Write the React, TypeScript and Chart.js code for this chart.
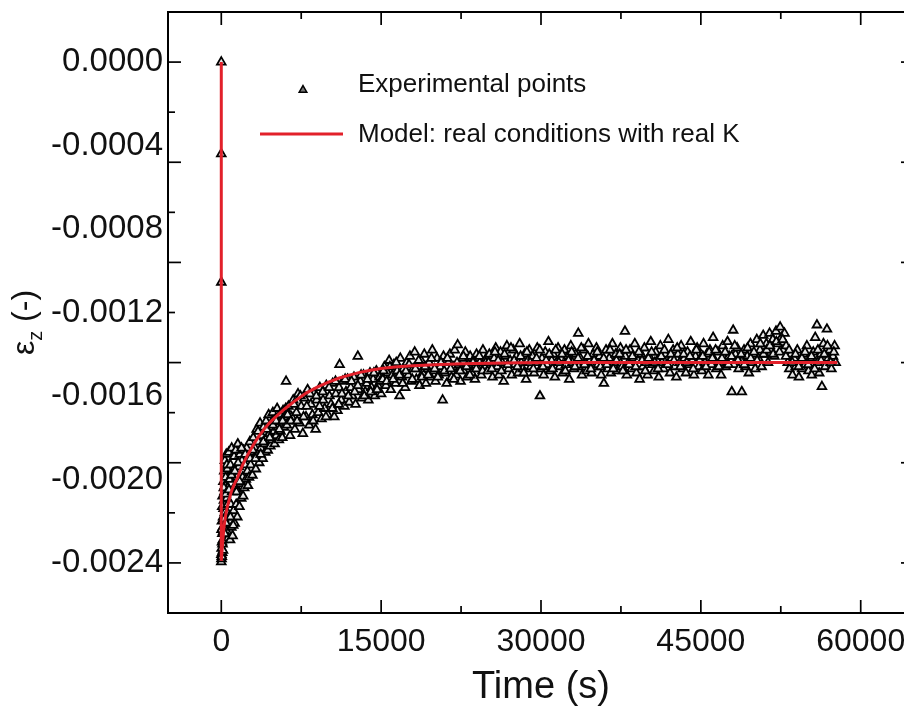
import { useEffect, useRef } from 'react';
import { Chart, registerables } from 'chart.js';

Chart.register(...registerables);

// ---------- axes ----------
const X_RANGE = [-5000, 65000];
const Y_RANGE = [-0.00264, 0.00024];
const X_TICKS = [0, 15000, 30000, 45000, 60000];
const X_MINOR_MARKS = [7500, 22500, 37500, 52500];
const Y_TICKS = [0, -0.0004, -0.0008, -0.0012, -0.0016, -0.002, -0.0024];
const Y_MAJOR_MARKS = [0, -0.00048, -0.00096, -0.00144, -0.00192, -0.0024];
const Y_MINOR_MARKS = [-0.00024, -0.00072, -0.0012, -0.00168, -0.00216];

const X_TITLE = 'Time (s)';
const Y_TITLE_MAIN = 'ε';
const Y_TITLE_SUB = 'z';
const Y_TITLE_UNIT = ' (-)';

const SERIES_EXP = 'Experimental points';
const SERIES_MODEL = 'Model: real conditions with real K';

// strain values below are in micro-strain (1e-6)
const MICRO = 1e-6;

// ---------- model curve ----------
const MODEL_TIME = [0, 0, 100, 250, 400, 550, 700, 850, 1000, 1250, 1500, 1750, 2000, 2500, 3000, 3500, 4000, 4500, 5000, 6000, 7000, 8000, 9000, 10000, 11000, 12000, 13000, 14000, 15000, 16500, 18000, 20000, 22500, 25000, 28000, 32000, 40000, 50000, 57800];
const MODEL_STRAIN = [0, -2390, -2320, -2230, -2175, -2135, -2105, -2075, -2050, -2020, -1995, -1962, -1930, -1880, -1835, -1795, -1760, -1730, -1705, -1660, -1620, -1585, -1558, -1535, -1515, -1500, -1487, -1477, -1468, -1460, -1455, -1450, -1446, -1443, -1441, -1440, -1440, -1440, -1440];

// ---------- experimental points [time s, micro-strain] ----------
const EXP_START: [number, number][] = [[0, 0], [0, -440], [0, -1055]];

const EXP_EARLY: [number, number][] = [
  [0, -2395], [10, -2360], [20, -2380], [35, -2330], [50, -2370], [60, -2200], [70, -2300], [85, -2350],
  [100, -2260], [115, -2310], [120, -2080], [135, -2230], [150, -2290], [170, -2180], [185, -2250], [200, -2010],
  [215, -2140], [230, -2230], [250, -2100], [265, -2190], [280, -1960], [300, -2060], [320, -2160], [340, -1910],
  [360, -2030], [380, -2120], [410, -1990], [440, -2210], [470, -1880], [500, -2090], [530, -2250], [560, -1950],
  [590, -2160], [620, -2040], [650, -2280],
  [30, -2240], [90, -2130], [160, -2340], [240, -2040], [330, -2260], [420, -2070], [520, -1930], [600, -2120],
];

const EXP_RISE: [number, number][] = [
  [700, -1870], [740, -2180], [780, -2000], [820, -2290], [860, -1930], [900, -2120], [940, -2230], [980, -1850],
  [1020, -2060], [1060, -2270], [1100, -1960], [1150, -2150], [1200, -1890], [1250, -2210], [1300, -2030], [1350, -1860],
  [1400, -2120], [1450, -1990], [1500, -2180], [1550, -1830], [1600, -2060], [1650, -1940], [1700, -2130], [1750, -1880],
  [1800, -2020], [1870, -2090], [1940, -1910], [2000, -1990], [2080, -1860], [2150, -2040], [2230, -1930], [2300, -2000],
  [2380, -1850], [2450, -1960], [2530, -1900], [2600, -1990], [2680, -1820], [2760, -1930], [2840, -1870], [2920, -1980],
  [3000, -1800], [3080, -1900], [3160, -1850], [3240, -1950], [3320, -1760], [3400, -1880], [3480, -1820], [3560, -1920],
  [3640, -1730], [3720, -1850], [3800, -1790], [3880, -1900], [3960, -1750], [4040, -1830], [4120, -1870], [4200, -1720],
  [4280, -1800], [4360, -1860], [4440, -1690], [4520, -1780], [4600, -1840], [4680, -1730], [4760, -1810], [4840, -1680],
  [4920, -1770], [5000, -1830], [5080, -1710], [5160, -1790], [5240, -1660], [5320, -1750], [5400, -1810], [5480, -1690],
  [5560, -1770], [5640, -1720], [5720, -1800], [5800, -1670], [5880, -1750], [5960, -1700], [6080, -1530],
  [720, -2050], [850, -2180], [960, -1980], [1120, -2220], [1280, -1960], [1420, -2060], [1580, -1920], [1720, -2010],
  [1900, -1850], [2050, -2080], [2250, -1880], [2500, -2030], [2700, -1900], [2950, -1860], [3200, -1900], [3450, -1770],
  [3700, -1880], [3950, -1820], [4250, -1760], [4550, -1800], [4850, -1740], [5150, -1720], [5450, -1760], [5750, -1720],
  [6050, -1660],
];

const EXP_MID: [number, number][] = [
  [6150, -1740], [6300, -1650], [6450, -1790], [6600, -1700], [6750, -1620], [6900, -1760], [7050, -1680], [7200, -1590],
  [7350, -1730], [7500, -1650], [7650, -1780], [7800, -1610], [7950, -1700], [8100, -1570], [8250, -1740], [8400, -1640],
  [8550, -1690], [8700, -1590], [8850, -1760], [8950, -1620], [9100, -1680], [9250, -1560], [9400, -1710], [9550, -1620],
  [9700, -1660], [9850, -1550], [10000, -1690], [10150, -1600], [10300, -1640], [10450, -1540], [10600, -1700], [10750, -1590],
  [10900, -1670], [11050, -1560], [11100, -1450], [11250, -1620], [11400, -1530], [11550, -1650], [11700, -1580], [11850, -1520],
  [12000, -1630], [12150, -1560], [12300, -1600], [12450, -1510], [12600, -1640], [12810, -1410], [12900, -1570], [13050, -1530],
  [13200, -1610], [13350, -1500], [13500, -1580], [13650, -1540], [13800, -1620], [13950, -1490], [14100, -1560], [14250, -1520],
  [14400, -1600], [14550, -1480], [14700, -1550], [14850, -1510], [15000, -1590],
  [6220, -1690], [6520, -1720], [6820, -1640], [7120, -1720], [7420, -1600], [7720, -1700], [8020, -1650], [8320, -1590],
  [8620, -1720], [8920, -1600], [9220, -1650], [9520, -1580], [9820, -1700], [10120, -1560], [10420, -1660], [10720, -1530],
  [11020, -1640], [11320, -1590], [11620, -1520], [11920, -1600], [12220, -1530], [12520, -1580], [12820, -1550], [13120, -1500],
  [13420, -1600], [13720, -1520], [14020, -1580], [14320, -1490], [14620, -1570], [14920, -1530],
];

const EXP_LATE: [number, number][] = [
  [15150, -1520], [15300, -1460], [15450, -1550], [15600, -1490], [15750, -1430], [15900, -1570], [16050, -1500], [16200, -1450],
  [16350, -1540], [16500, -1480], [16730, -1600], [16800, -1420], [16950, -1510], [17100, -1470], [17250, -1560], [17400, -1440],
  [17550, -1500], [17700, -1410], [17850, -1530], [18000, -1470], [18150, -1390], [18300, -1520], [18450, -1460], [18600, -1550],
  [18750, -1430], [18900, -1490], [19050, -1400], [19200, -1540], [19350, -1470], [19500, -1440], [19650, -1510], [19800, -1380],
  [19950, -1480], [20100, -1530], [20250, -1420], [20400, -1500], [20550, -1460], [20770, -1620], [20850, -1410], [21000, -1490],
  [21150, -1540], [21300, -1440], [21450, -1400], [21600, -1510], [21750, -1460], [21900, -1380], [22050, -1500], [22180, -1355],
  [22300, -1450], [22450, -1530], [22600, -1420], [22750, -1480], [22900, -1390], [23050, -1510], [23200, -1450], [23350, -1410],
  [23500, -1490], [23650, -1430], [23800, -1520], [23950, -1400], [24100, -1470], [24250, -1440], [24400, -1500], [24550, -1380],
  [24700, -1460], [24850, -1420],
  [15220, -1480], [15520, -1530], [15820, -1460], [16120, -1520], [16420, -1440], [16720, -1500], [17020, -1540], [17320, -1480],
  [17620, -1450], [17920, -1520], [18220, -1470], [18520, -1430], [18820, -1510], [19120, -1460], [19420, -1500], [19720, -1420],
  [20020, -1470], [20320, -1510], [20620, -1440], [20920, -1480], [21220, -1420], [21520, -1470], [21820, -1520], [22120, -1440],
  [22420, -1480], [22720, -1410], [23020, -1460], [23320, -1500], [23620, -1440], [23920, -1470], [24220, -1410], [24520, -1480],
  [24820, -1440],
];

const EXP_PLATEAU: [number, number][] = [
  [25000, -1480], [25150, -1400], [25300, -1450], [25450, -1510], [25600, -1420], [25750, -1370], [25900, -1460], [26050, -1500],
  [26200, -1390], [26350, -1440], [26500, -1530], [26650, -1410], [26800, -1360], [26950, -1470], [27100, -1430], [27250, -1500],
  [27400, -1380], [27550, -1450], [27700, -1410], [27850, -1490], [28000, -1350], [28150, -1440], [28300, -1470], [28450, -1400],
  [28600, -1520], [28750, -1430], [28900, -1380], [29050, -1460], [29200, -1410], [29350, -1490], [29500, -1440], [29650, -1370],
  [29900, -1600], [29950, -1470], [30100, -1420], [30250, -1500], [30400, -1390], [30550, -1450], [30700, -1340], [30850, -1480],
  [31000, -1430], [31150, -1400], [31300, -1510], [31450, -1440], [31600, -1370], [31750, -1460], [31900, -1420], [32050, -1490],
  [32200, -1380], [32350, -1450], [32500, -1410], [32650, -1520], [32800, -1360], [32950, -1440], [33100, -1470], [33250, -1400],
  [33500, -1300], [33550, -1460], [33700, -1420], [33850, -1500], [34000, -1380], [34150, -1440], [34300, -1480], [34450, -1350],
  [34600, -1430], [34750, -1490], [34900, -1400], [35050, -1460], [35200, -1370], [35350, -1450], [35500, -1410], [35650, -1500],
  [35900, -1540], [35950, -1430], [36100, -1380], [36250, -1470], [36400, -1420], [36550, -1490], [36700, -1350], [36850, -1440],
  [37000, -1400], [37150, -1480], [37300, -1430], [37450, -1370], [37600, -1460], [37876, -1290], [37900, -1410], [38050, -1500],
  [38200, -1440], [38350, -1380], [38500, -1470], [38650, -1420], [38800, -1350], [38950, -1490], [39100, -1430], [39250, -1520],
  [39400, -1400], [39550, -1460], [39700, -1370], [39850, -1440], [40000, -1500], [40150, -1410], [40300, -1340], [40450, -1450],
  [40600, -1480], [40750, -1390], [40900, -1430], [41050, -1510], [41200, -1360], [41350, -1440], [41500, -1470], [41650, -1400],
  [41800, -1450], [41950, -1330], [42100, -1490], [42250, -1420], [42400, -1380], [42550, -1460], [42700, -1510], [42850, -1400],
  [43000, -1440], [43150, -1360], [43300, -1470], [43450, -1420], [43600, -1490], [43750, -1390], [43900, -1450], [44050, -1340],
  [44200, -1430], [44350, -1500], [44500, -1410], [44650, -1370], [44800, -1460], [44950, -1420], [45100, -1480], [45250, -1350],
  [45400, -1440], [45550, -1400], [45700, -1500], [45850, -1380], [46000, -1450], [46150, -1320], [46300, -1430], [46450, -1470],
  [46600, -1390], [46750, -1440], [46900, -1500], [47050, -1360], [47200, -1420], [47350, -1460], [47500, -1340], [47650, -1410],
  [47900, -1580], [48030, -1285], [48100, -1450], [48250, -1400], [48400, -1370], [48550, -1470], [48840, -1580], [48900, -1430],
  [49050, -1380], [49200, -1460], [49350, -1410], [49500, -1490], [49650, -1350], [49800, -1440], [49950, -1400], [50100, -1470],
  [50250, -1330], [50400, -1420], [50550, -1380], [50700, -1460], [50850, -1310], [51000, -1400], [51150, -1350], [51300, -1440],
  [51450, -1300], [51600, -1380], [51750, -1330], [51900, -1410], [52050, -1290], [52200, -1350], [52440, -1270], [52550, -1320],
  [52700, -1380], [52850, -1300], [53000, -1360], [53150, -1440], [53300, -1470], [53450, -1400], [53600, -1500], [53750, -1420],
  [53900, -1460], [54050, -1380], [54200, -1510], [54350, -1430], [54500, -1470], [54650, -1400], [54800, -1450], [54950, -1360],
  [55100, -1480], [55250, -1420], [55400, -1500], [55550, -1390], [55730, -1320], [55890, -1260], [55950, -1440], [56100, -1490],
  [56250, -1400], [56360, -1555], [56500, -1350], [56650, -1460], [56830, -1280], [56950, -1420], [57100, -1380], [57250, -1470],
  [57400, -1410], [57550, -1360], [57650, -1440],
];

const EXP_PLATEAU_B: [number, number][] = [
  [25080, -1440], [25380, -1470], [25680, -1390], [25980, -1430], [26280, -1480], [26580, -1400], [26880, -1450], [27180, -1370],
  [27480, -1430], [27780, -1460], [28080, -1410], [28380, -1490], [28680, -1390], [28980, -1440], [29280, -1470], [29580, -1420],
  [29880, -1380], [30180, -1460], [30480, -1430], [30780, -1400], [31080, -1470], [31380, -1380], [31680, -1440], [31980, -1400],
  [32280, -1480], [32580, -1430], [32880, -1390], [33180, -1460], [33480, -1420], [33780, -1370], [34080, -1450], [34380, -1410],
  [34680, -1470], [34980, -1430], [35280, -1390], [35580, -1460], [35880, -1420], [36180, -1450], [36480, -1380], [36780, -1470],
  [37080, -1430], [37380, -1400], [37680, -1480], [37980, -1380], [38280, -1450], [38580, -1410], [38880, -1460], [39180, -1390],
  [39480, -1430], [39780, -1480], [40080, -1420], [40380, -1390], [40680, -1440], [40980, -1470], [41280, -1410], [41580, -1380],
  [41880, -1450], [42180, -1400], [42480, -1430], [42780, -1370], [43080, -1460], [43380, -1400], [43680, -1440], [43980, -1410],
  [44280, -1470], [44580, -1380], [44880, -1430], [45180, -1410], [45480, -1460], [45780, -1390], [46080, -1420], [46380, -1380],
  [46680, -1460], [46980, -1420], [47280, -1390], [47580, -1450], [47880, -1410], [48180, -1360], [48480, -1430], [48780, -1400],
  [49080, -1450], [49380, -1370], [49680, -1420], [49980, -1390], [50280, -1430], [50580, -1350], [50880, -1400], [51180, -1380],
  [51480, -1360], [51780, -1400], [52080, -1340], [52380, -1390], [52680, -1330], [52980, -1410], [53280, -1380], [53580, -1440],
  [53880, -1400], [54180, -1460], [54480, -1420], [54780, -1390], [55080, -1450], [55380, -1410], [55680, -1470], [55980, -1380],
  [56280, -1430], [56580, -1400], [56880, -1360], [57180, -1440], [57480, -1390],
];

// ---------- styling ----------
const FONT = '"Liberation Sans", Arial, Helvetica, sans-serif';
const TEXT = '#111';
const RED = '#e2202a';

const framePlugin = {
  id: 'frameTicks',
  afterDraw(chart: any) {
    const { ctx, chartArea: a, scales } = chart;
    const xs = scales.x;
    const ys = scales.y;
    ctx.save();
    ctx.strokeStyle = '#000';
    ctx.lineWidth = 2;
    ctx.strokeRect(a.left, a.top, a.right - a.left, a.bottom - a.top);
    ctx.lineWidth = 1.7;
    const seg = (x1: number, y1: number, x2: number, y2: number) => {
      ctx.beginPath();
      ctx.moveTo(x1, y1);
      ctx.lineTo(x2, y2);
      ctx.stroke();
    };
    X_TICKS.forEach((v) => {
      const p = xs.getPixelForValue(v);
      seg(p, a.bottom, p, a.bottom - 13);
      seg(p, a.top, p, a.top + 13);
    });
    X_MINOR_MARKS.forEach((v) => {
      const p = xs.getPixelForValue(v);
      seg(p, a.bottom, p, a.bottom - 7);
      seg(p, a.top, p, a.top + 7);
    });
    Y_MAJOR_MARKS.forEach((v) => {
      const p = ys.getPixelForValue(v);
      seg(a.left, p, a.left + 13, p);
      seg(a.right, p, a.right - 13, p);
    });
    Y_MINOR_MARKS.forEach((v) => {
      const p = ys.getPixelForValue(v);
      seg(a.left, p, a.left + 7, p);
      seg(a.right, p, a.right - 7, p);
    });
    ctx.restore();
  },
};

const yTitlePlugin = {
  id: 'yTitle',
  afterDraw(chart: any) {
    const { ctx, chartArea: a } = chart;
    const big = `32px ${FONT}`;
    const small = `20px ${FONT}`;
    ctx.save();
    ctx.fillStyle = TEXT;
    ctx.textBaseline = 'alphabetic';
    ctx.textAlign = 'left';
    ctx.translate(34, (a.top + a.bottom) / 2 + 10);
    ctx.rotate(-Math.PI / 2);
    ctx.font = big;
    const w1 = ctx.measureText(Y_TITLE_MAIN).width;
    const w3 = ctx.measureText(Y_TITLE_UNIT).width;
    ctx.font = small;
    const w2 = ctx.measureText(Y_TITLE_SUB).width;
    let x = -(w1 + w2 + w3) / 2;
    ctx.font = big;
    ctx.fillText(Y_TITLE_MAIN, x, 0);
    x += w1;
    ctx.font = small;
    ctx.fillText(Y_TITLE_SUB, x, 8);
    x += w2;
    ctx.font = big;
    ctx.fillText(Y_TITLE_UNIT, x, 0);
    ctx.restore();
  },
};

const legendPlugin = {
  id: 'insideLegend',
  afterDraw(chart: any) {
    const { ctx, chartArea: a } = chart;
    const ds = chart.data.datasets;
    ctx.save();
    // triangle symbol
    const tx = a.left + 135;
    const ty = a.top + 78;
    const r = 4.4;
    ctx.beginPath();
    ctx.moveTo(tx, ty - r);
    ctx.lineTo(tx + 0.866 * r, ty + r / 2);
    ctx.lineTo(tx - 0.866 * r, ty + r / 2);
    ctx.closePath();
    ctx.fillStyle = '#777';
    ctx.fill();
    ctx.strokeStyle = '#000';
    ctx.lineWidth = 1.5;
    ctx.stroke();
    // line symbol
    ctx.strokeStyle = RED;
    ctx.lineWidth = 3;
    ctx.beginPath();
    ctx.moveTo(a.left + 92, a.top + 122);
    ctx.lineTo(a.left + 175, a.top + 122);
    ctx.stroke();
    // texts
    ctx.fillStyle = TEXT;
    ctx.font = `26px ${FONT}`;
    ctx.textBaseline = 'middle';
    ctx.textAlign = 'left';
    ctx.fillText(ds[0].label, a.left + 190, a.top + 72.5);
    ctx.fillText(ds[1].label, a.left + 190, a.top + 122.5);
    ctx.restore();
  },
};

const toXY = (pts: [number, number][]) => pts.map(([t, v]) => ({ x: t, y: v * MICRO }));

const noScalePadding = (s: any) => {
  s.paddingTop = 0;
  s.paddingBottom = 0;
  s.paddingLeft = 0;
  s.paddingRight = 0;
};

export default function App() {
  const ref = useRef<HTMLCanvasElement>(null);

  useEffect(() => {
    if (!ref.current) return;
    const expData = toXY([
      ...EXP_START, ...EXP_EARLY, ...EXP_RISE, ...EXP_MID, ...EXP_LATE, ...EXP_PLATEAU, ...EXP_PLATEAU_B,
    ]);
    const modelData = MODEL_TIME.map((t, i) => ({ x: t, y: MODEL_STRAIN[i] * MICRO }));

    const chart = new Chart(ref.current, {
      type: 'scatter',
      data: {
        datasets: [
          {
            label: SERIES_EXP,
            data: expData,
            showLine: false,
            pointStyle: 'triangle',
            pointRadius: 5,
            pointBorderWidth: 1.8,
            pointBorderColor: '#000',
            pointBackgroundColor: '#e6e6e6',
            order: 2,
          },
          {
            label: SERIES_MODEL,
            data: modelData,
            showLine: true,
            borderColor: RED,
            borderWidth: 3,
            pointRadius: 0,
            tension: 0,
            fill: false,
            order: 1,
          } as any,
        ],
      },
      options: {
        responsive: false,
        animation: false,
        events: [],
        layout: { padding: { top: 12, left: 0, right: 0, bottom: 0 }, autoPadding: false },
        plugins: {
          legend: { display: false },
          tooltip: { enabled: false },
        },
        scales: {
          x: {
            type: 'linear',
            min: X_RANGE[0],
            max: X_RANGE[1],
            afterBuildTicks: (s: any) => {
              s.ticks = X_TICKS.map((value) => ({ value }));
            },
            afterFit: (s: any) => {
              s.height = 98;
              noScalePadding(s);
            },
            grid: { display: false, drawTicks: false },
            border: { display: false },
            ticks: {
              padding: 10,
              color: TEXT,
              autoSkip: false,
              maxRotation: 0,
              font: { family: FONT, size: 32 },
              callback: (v: any) => String(v),
            },
            title: {
              display: true,
              text: X_TITLE,
              color: TEXT,
              font: { family: FONT, size: 38 },
              padding: { top: 0, bottom: 1 },
            },
          },
          y: {
            type: 'linear',
            min: Y_RANGE[0],
            max: Y_RANGE[1],
            afterBuildTicks: (s: any) => {
              s.ticks = Y_TICKS.map((value) => ({ value }));
            },
            afterFit: (s: any) => {
              s.width = 168;
              noScalePadding(s);
            },
            grid: { display: false, drawTicks: false },
            border: { display: false },
            ticks: {
              padding: 5,
              color: TEXT,
              autoSkip: false,
              font: { family: FONT, size: 33 },
              callback: (v: any) => Number(v).toFixed(4),
            },
          },
        },
      },
      plugins: [framePlugin, yTitlePlugin, legendPlugin],
    });
    return () => chart.destroy();
  }, []);

  return (
    <div style={{ position: 'fixed', left: 0, top: 0, width: 904, height: 711, overflow: 'hidden', background: '#fff' }}>
      <canvas ref={ref} width={914} height={711} style={{ display: 'block', width: 914, height: 711 }} />
    </div>
  );
}
